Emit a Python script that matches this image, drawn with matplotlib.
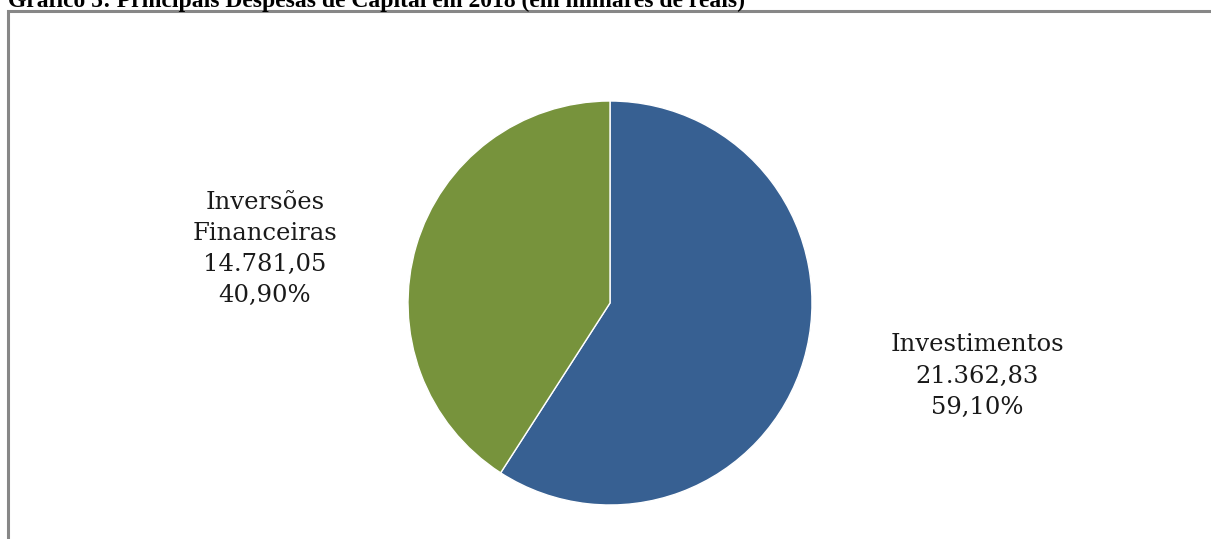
import matplotlib
matplotlib.use("Agg")
import matplotlib.pyplot as plt
from matplotlib.patches import Rectangle

categories = ["Investimentos", "Inversões\nFinanceiras"]
values = [21362.83, 14781.05]
value_labels = ["21.362,83", "14.781,05"]
pct_labels = ["59,10%", "40,90%"]
colors = ["#376092", "#77933C"]
title = "Gráfico 5: Principais Despesas de Capital em 2018 (em milhares de reais)"

W, H = 1211, 539
fig = plt.figure(figsize=(W / 100, H / 100), dpi=100)

# border frame
fig.add_artist(Rectangle((8 / W, -0.01), 1.2, 1 - 11 / H + 0.01, transform=fig.transFigure,
                         fill=False, edgecolor="#878787", linewidth=2.2))
fig.text(8 / W, 1 - 7 / H, title, ha="left", va="baseline", fontsize=17, fontweight="bold",
         family="Liberation Serif")

r = 202
cx, cy = 610, 303
ax = fig.add_axes([(cx - r) / W, (H - cy - r) / H, 2 * r / W, 2 * r / H])
ax.pie(values, colors=colors, startangle=90, counterclock=False,
       wedgeprops=dict(linewidth=1, edgecolor="white"))
ax.set_aspect("auto")
ax.set_xlim(-1, 1)
ax.set_ylim(-1, 1)

label_pos = [(977, 376), (265, 249)]
for cat, vl, pl, (x, y) in zip(categories, value_labels, pct_labels, label_pos):
    fig.text(x / W, 1 - y / H, f"{cat}\n{vl}\n{pl}", ha="center", va="center",
             fontsize=17.5, family="DejaVu Serif", linespacing=1.45, color="#1a1a1a")

fig.savefig("out.png", dpi=100)
